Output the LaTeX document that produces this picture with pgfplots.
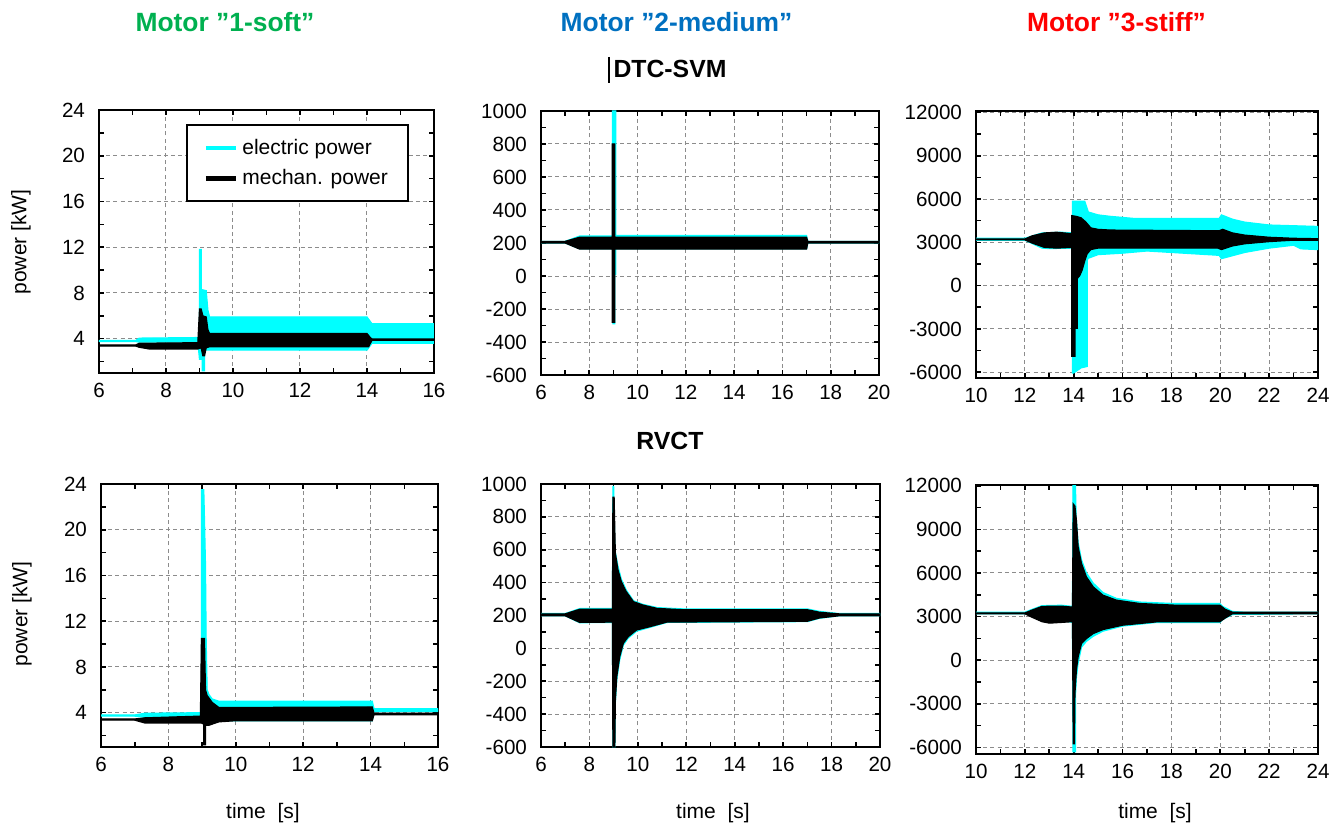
\documentclass[border=0pt]{standalone}
\usepackage{fontspec}
\setmainfont{Liberation Sans}
\usepackage{pgfplots}
\pgfplotsset{compat=1.18}
\definecolor{tgreen}{RGB}{0,176,80}
\definecolor{tblue}{RGB}{0,112,192}
\definecolor{tred}{RGB}{255,0,0}
\definecolor{ecyan}{RGB}{0,255,255}
\pgfplotsset{
  panel/.style={
    scale only axis, anchor=south west,
    axis line style={line width=1.4pt},
    grid=major,
    major grid style={black!45, line width=0.5pt, dash pattern=on 2pt off 1.6pt},
    tick align=inside, major tick length=2.5pt, minor tick length=2.5pt,
    every tick/.style={black, line width=0.8pt},
    ticklabel style={font=\fontsize{10.3}{12}\selectfont},
    xticklabel style={yshift=-1.5pt},
    yticklabel style={xshift=-3.5pt},
    scaled ticks=false,
    /pgf/number format/assume math mode=true,
    /pgf/number format/1000 sep={},
    no markers,
  },
  cyanband/.style={fill=ecyan, draw=ecyan, line width=0.6pt, forget plot},
  blackband/.style={fill=black, draw=black, line width=0.6pt, forget plot},
}
\begin{document}
\begin{tikzpicture}
\path[use as bounding box] (0,0) rectangle (670.5pt,-414.5pt);

% ---------- Row 1: DTC-SVM ----------
\begin{axis}[panel, at={(49.5pt,-186.5pt)}, width=167.5pt, height=131.5pt,
  xmin=6, xmax=16, ymin=1, ymax=24,
  xtick={6,8,...,16}, minor xtick={7,9,...,15},
  ytick={4,8,...,24}, minor ytick={2,6,...,22},
  legend style={at={(0.925,0.947)}, anchor=north east, draw=black, line width=1pt,
    font=\fontsize{10.5}{12}\selectfont, inner xsep=8pt, inner ysep=5pt,
    row sep=2pt, cells={anchor=west}},
  legend image code/.code={\draw[#1] (0pt,0pt) -- (15pt,0pt);}]
\addplot[cyanband] coordinates {
 (6,3.85) (7.1,3.85) (7.2,4.05) (9.0,4.1) (9.0,11.8) (9.05,11.8) (9.05,8.3) (9.2,8.2)
 (9.25,6.5) (9.3,5.9) (14.0,5.9) (14.15,5.3) (16,5.3)
 (16,3.6) (14.15,3.6) (14.0,3.0) (9.3,3.0) (9.15,3.0) (9.15,1.2) (9.08,1.2) (9.08,2.2)
 (9.0,2.2) (8.95,3.7) (7.2,3.7) (7.1,3.75) (6,3.75)};
\addplot[blackband] coordinates {
 (6,3.45) (7.1,3.45) (7.2,3.6) (8.95,3.65) (9.0,6.6) (9.05,6.6) (9.1,6.0) (9.2,5.9)
 (9.25,4.8) (9.3,4.45) (14.0,4.45) (14.1,4.1) (14.15,3.97) (16,3.97)
 (16,3.87) (14.15,3.87) (14.05,3.3) (9.3,3.3) (9.2,3.2) (9.15,2.5) (9.1,2.5) (9.05,3.2)
 (8.95,3.1) (7.5,3.1) (7.2,3.25) (7.1,3.35) (6,3.35)};
\addlegendimage{ecyan, line width=2pt}
\addlegendentry{electric power}
\addlegendimage{black, line width=2.5pt}
\addlegendentry{mechan. power}
\end{axis}

\begin{axis}[panel, at={(270.5pt,-187.5pt)}, width=169pt, height=132pt,
  xmin=6, xmax=20, ymin=-600, ymax=1000,
  xtick={6,8,...,20}, minor xtick={7,9,...,19},
  ytick={-600,-400,...,1000}, minor ytick={-500,-300,...,900}]
\addplot[cyanband] coordinates {
 (6,210) (7.0,210) (7.6,242) (8.96,242) (8.96,1000) (9.1,1000) (9.1,245) (17.0,245)
 (17.05,210) (20,210)
 (20,200) (17.05,200) (17.0,165) (9.1,165) (9.1,10) (9.06,10) (9.06,-290) (8.98,-290)
 (8.98,165) (7.6,165) (7.0,200) (6,200)};
\addplot[blackband] coordinates {
 (6,210) (7.0,210) (7.6,235) (8.95,235) (8.95,800) (9.06,800) (9.06,235) (17.0,235)
 (17.05,210) (20,210)
 (20,200) (17.05,200) (17.0,163) (9.06,163) (9.06,-280) (8.95,-280) (8.95,163)
 (7.6,163) (7.0,200) (6,200)};
\end{axis}

\begin{axis}[panel, at={(488pt,-189pt)}, width=171pt, height=133.5pt,
  xmin=10, xmax=24, ymin=-6400, ymax=12100,
  xtick={10,12,...,24}, minor xtick={11,13,...,23},
  ytick={-6000,-3000,...,12000}, minor ytick={-4500,-1500,...,10500}]
\addplot[cyanband] coordinates {
 (10,3280) (12.0,3280) (12.7,3650) (13.5,3700) (13.95,3650) (13.95,5850) (14.45,5850)
 (14.6,5100) (15.0,4900) (15.5,4800) (16.5,4650) (19.95,4650) (20.05,4900) (20.5,4600)
 (21.0,4400) (22.0,4200) (24,4100)
 (24,2500) (23.3,2550) (23.0,2800) (22.0,2600) (21.0,2300) (20.05,1870) (19.95,2100)
 (17,2400) (16,2250) (15.0,2150) (14.6,1900) (14.55,1780) (14.55,-5600) (14.3,-5700)
 (14.0,-6050) (13.95,-6050) (13.95,2600) (13.0,2570) (12.7,2600) (12.0,3150) (10,3150)};
\addplot[blackband] coordinates {
 (10,3230) (12.0,3230) (12.3,3450) (12.8,3650) (13.3,3700) (13.92,3600) (13.92,4850)
 (14.1,4800) (14.3,4700) (14.5,4400) (14.7,4000) (15.0,3900) (15.5,3850) (19.95,3800)
 (20.1,3900) (20.5,3650) (21.0,3500) (22.0,3350) (23.0,3280) (24,3250)
 (24,3150) (23.0,3150) (22.0,3050) (21.0,2900) (20.5,2750) (20.05,2500) (19.9,2600)
 (15.5,2600) (15.0,2600) (14.7,2500) (14.55,2200) (14.45,1700) (14.35,1100) (14.25,700)
 (14.15,500) (14.15,-2950) (14.05,-2950) (14.05,-4900) (13.92,-4900) (13.92,2650)
 (13.3,2600) (12.8,2650) (12.3,2950) (12.0,3170) (10,3170)};
\end{axis}

% ---------- Row 2: RVCT ----------
\begin{axis}[panel, at={(50.5pt,-373.5pt)}, width=168.5pt, height=131.5pt,
  xmin=6, xmax=16, ymin=1, ymax=24,
  xtick={6,8,...,16}, minor xtick={7,9,...,15},
  ytick={4,8,...,24}, minor ytick={2,6,...,22}]
\addplot[cyanband] coordinates {
 (6,3.8) (7.0,3.8) (7.3,3.95) (8.98,4.0) (8.98,23.5) (9.05,23.5) (9.07,21) (9.1,17)
 (9.12,10.5) (9.15,6) (9.2,5.6) (9.3,5.2) (9.5,5.0) (14.05,5.0) (14.1,4.35) (16,4.35)
 (16,4.1) (14.1,4.1) (14.05,3.3) (9.3,3.3) (9.2,3.0) (9.05,3.1) (9.0,3.7) (7.3,3.6)
 (7.0,3.7) (6,3.7)};
\addplot[blackband] coordinates {
 (6,3.45) (7.0,3.45) (7.3,3.55) (8.95,3.7) (8.98,10.5) (9.07,10.5) (9.1,6) (9.15,5.5)
 (9.3,4.9) (9.5,4.45) (14.05,4.5) (14.1,3.95) (16,3.95)
 (16,3.82) (14.1,3.82) (14.05,3.3) (10,3.3) (9.5,3.2) (9.2,2.9) (9.1,2.9) (9.1,1.2)
 (9.05,1.2) (9.05,3.0) (8.98,3.1) (7.3,3.1) (7.0,3.35) (6,3.35)};
\end{axis}

\begin{axis}[panel, at={(270.5pt,-373.5pt)}, width=169.5pt, height=131.5pt,
  xmin=6, xmax=20, ymin=-600, ymax=1000,
  xtick={6,8,...,20}, minor xtick={7,9,...,19},
  ytick={-600,-400,...,1000}, minor ytick={-500,-300,...,900}]
\addplot[cyanband] coordinates {
 (6,212) (7.0,212) (7.6,242) (8.95,242) (8.97,985) (9.0,985) (9.05,600) (9.18,500)
 (9.32,420) (9.52,355) (9.82,290) (10.2,268) (10.8,248) (11.9,240) (17.0,240)
 (17.5,225) (18.3,212) (20,212)
 (20,198) (18.3,198) (17.5,183) (17.0,163) (11.2,158) (10.5,128) (9.95,105) (9.6,62)
 (9.4,20) (9.25,-70) (9.13,-190) (9.07,-330) (9.05,-600) (8.97,-600) (8.95,158)
 (7.6,156) (7.0,198) (6,198)};
\addplot[blackband] coordinates {
 (6,210) (7.0,210) (7.6,238) (8.95,238) (8.97,920) (9.02,920) (9.07,580) (9.18,477)
 (9.32,405) (9.52,345) (9.82,284) (10.2,264) (10.8,243) (11.9,235) (17.0,235)
 (17.5,220) (18.3,210) (20,210)
 (20,198) (18.3,198) (17.5,185) (17.0,165) (11.2,160) (10.5,132) (9.95,112) (9.6,71)
 (9.4,31) (9.25,-51) (9.13,-172) (9.07,-320) (9.05,-600) (8.97,-600) (8.95,160)
 (7.6,158) (7.0,198) (6,198)};
\end{axis}

\begin{axis}[panel, at={(488pt,-377pt)}, width=171pt, height=134.5pt,
  xmin=10, xmax=24, ymin=-6450, ymax=12050,
  xtick={10,12,...,24}, minor xtick={11,13,...,23},
  ytick={-6000,-3000,...,12000}, minor ytick={-4500,-1500,...,10500}]
\addplot[cyanband] coordinates {
 (10,3300) (12.0,3300) (12.3,3500) (12.7,3750) (13.5,3780) (13.95,3700) (13.97,12100)
 (14.07,12100) (14.1,9800) (14.18,8100) (14.32,6900) (14.52,6000) (14.8,5300)
 (15.2,4650) (15.75,4250) (16.7,4000) (18.1,3900) (19.98,3900) (20.1,3700) (20.5,3350)
 (21.0,3300) (24,3300)
 (24,3200) (20.5,3150) (20.1,2800) (19.98,2600) (17.4,2600) (16.0,2350) (15.2,2000)
 (14.8,1650) (14.52,1300) (14.32,900) (14.18,-200) (14.11,-1200) (14.07,-2500)
 (14.07,-6300) (13.97,-6300) (13.95,2600) (12.0,3200) (10,3200)};
\addplot[blackband] coordinates {
 (10,3250) (12.0,3250) (12.3,3450) (12.7,3700) (13.5,3720) (13.95,3650) (13.98,10750)
 (14.05,10600) (14.11,9630) (14.18,7800) (14.32,6650) (14.52,5730) (14.8,5040)
 (15.2,4470) (15.75,4130) (16.7,3900) (18.1,3790) (19.98,3790) (20.2,3500) (20.5,3300)
 (24,3300)
 (24,3200) (20.5,3200) (20.2,2900) (19.98,2640) (17.4,2640) (16.0,2410) (15.2,2110)
 (14.8,1835) (14.52,1490) (14.32,1150) (14.18,230) (14.11,-690) (14.05,-2290)
 (14.03,-5750) (13.98,-5750) (13.95,2650) (13.5,2600) (13.0,2550) (12.7,2650)
 (12.3,2950) (12.0,3200) (10,3200)};
\end{axis}

% ---------- Titles and labels ----------
\node[text=tgreen, font=\fontsize{13.2}{15}\selectfont\bfseries] at (112.5pt,-11pt) {Motor ”1-soft”};
\node[text=tblue, font=\fontsize{13.2}{15}\selectfont\bfseries] at (338.25pt,-11pt) {Motor ”2-medium”};
\node[text=tred, font=\fontsize{13.2}{15}\selectfont\bfseries] at (558.25pt,-11pt) {Motor ”3-stiff”};
\node[font=\fontsize{12.4}{14}\selectfont\bfseries] at (335pt,-34.5pt) {DTC-SVM};
\draw[line width=0.6pt] (304.5pt,-28.5pt) -- (304.5pt,-41.5pt);
\node[font=\fontsize{12.4}{14}\selectfont\bfseries] at (335pt,-220.5pt) {RVCT};
\node[rotate=90, font=\fontsize{10.5}{12}\selectfont] at (10.5pt,-121pt) {power [kW]};
\node[rotate=90, font=\fontsize{10.5}{12}\selectfont] at (11pt,-307pt) {power [kW]};
\node[font=\fontsize{10.5}{12}\selectfont] at (131.5pt,-406.5pt) {time\ \ [s]};
\node[font=\fontsize{10.5}{12}\selectfont] at (356.5pt,-406.5pt) {time\ \ [s]};
\node[font=\fontsize{10.5}{12}\selectfont] at (577.5pt,-406.5pt) {time\ \ [s]};
\end{tikzpicture}
\end{document}
